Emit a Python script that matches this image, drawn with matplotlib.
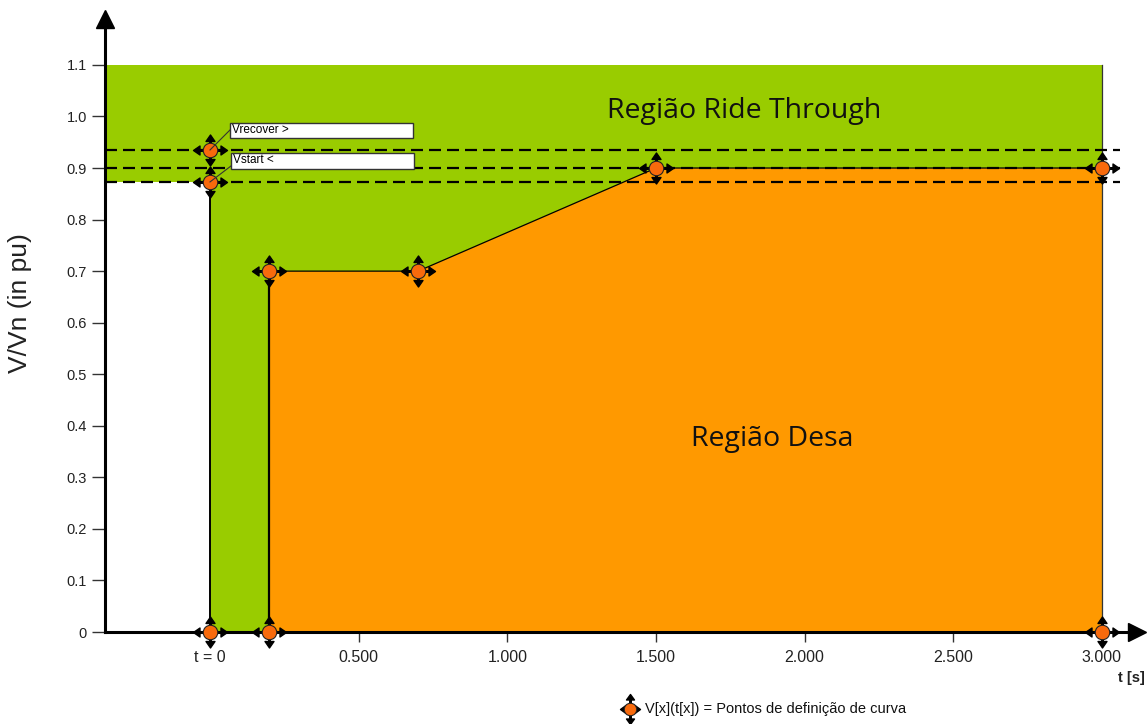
import numpy as np
import matplotlib
matplotlib.use("Agg")
import matplotlib.pyplot as plt
from matplotlib.path import Path
from matplotlib.patches import Rectangle

# ---------------- data ----------------
curve_t = [0.2, 0.2, 0.7, 1.5, 3.0, 3.0]
curve_v = [0.0, 0.7, 0.7, 0.9, 0.9, 0.0]
t_start = 0.0
v_start = 0.873
v_recover = 0.935
v_level = 0.9
v_max = 1.1
t_end = 3.0
point_t = [0.0, 0.0, 0.0, 0.2, 0.2, 0.7, 1.5, 3.0, 3.0]
point_v = [0.0, 0.873, 0.935, 0.0, 0.7, 0.7, 0.9, 0.9, 0.0]
xtick_vals = [0.0, 0.5, 1.0, 1.5, 2.0, 2.5, 3.0]
xtick_labels = ["t = 0", "0.500", "1.000", "1.500", "2.000", "2.500", "3.000"]
ytick_vals = [0.0, 0.1, 0.2, 0.3, 0.4, 0.5, 0.6, 0.7, 0.8, 0.9, 1.0, 1.1]
ytick_labels = ["0", "0.1", "0.2", "0.3", "0.4", "0.5", "0.6", "0.7", "0.8", "0.9", "1.0", "1.1"]

GREEN = "#99CC00"
ORANGE = "#FF9900"
DOT = "#F86A0C"

plt.rcParams['font.family'] = ['Liberation Sans', 'DejaVu Sans']

W, H = 1147, 724
fig = plt.figure(figsize=(W / 100, H / 100), dpi=100)
XMIN, XMAX = -0.3532, 3.15
YMIN, YMAX = 0.0, 1.21
ax = fig.add_axes([105 / W, 92 / H, (1146.5 - 105) / W, 623.8 / H])
ax.set_xlim(XMIN, XMAX)
ax.set_ylim(YMIN, YMAX)
ax.set_facecolor("white")

# ---------------- regions ----------------
ax.fill_between([XMIN, t_start], v_start, v_max, color=GREEN, lw=0, zorder=1)
ax.fill_between([t_start, t_end], 0, v_max, color=GREEN, lw=0, zorder=1)
ax.fill(curve_t, curve_v, color=ORANGE, lw=0, zorder=1.5)

# outlines
ax.plot(curve_t[1:5], curve_v[1:5], color="black", lw=0.9, zorder=2)
ax.plot(curve_t[:2], curve_v[:2], color="black", lw=1.6, zorder=2)
ax.plot([t_start, t_start], [0, v_start], color="black", lw=1.4, zorder=2)
ax.plot([t_end, t_end], [0, v_max], color="#333333", lw=0.9, zorder=2)

# dashed levels
for v in (v_recover, v_level, v_start):
    ax.plot([XMIN, 3.06], [v, v], color="black", lw=1.6, dashes=(5.4, 2.7),
            zorder=3, clip_on=False)

# ---------------- markers ----------------
def arrows_path(hx, vy, r=6.5, head_len=6.5, head_hw=4.5, stem_hw=0.8):
    verts, codes = [], []
    def add_arrow(d, tip):
        dx, dy = d
        px, py = -dy, dx
        base = tip - head_len
        poly = [
            (dx * r + px * stem_hw, dy * r + py * stem_hw),
            (dx * base + px * stem_hw, dy * base + py * stem_hw),
            (dx * base + px * head_hw, dy * base + py * head_hw),
            (dx * tip, dy * tip),
            (dx * base - px * head_hw, dy * base - py * head_hw),
            (dx * base - px * stem_hw, dy * base - py * stem_hw),
            (dx * r - px * stem_hw, dy * r - py * stem_hw),
        ]
        verts.extend(poly + [poly[0]])
        codes.extend([Path.MOVETO] + [Path.LINETO] * (len(poly) - 1) + [Path.CLOSEPOLY])
    add_arrow((1, 0), hx)
    add_arrow((-1, 0), hx)
    add_arrow((0, 1), vy)
    add_arrow((0, -1), vy)
    return Path(verts, codes)

px2pt = 72 / 100
main_arrows = arrows_path(17, 15.5)
ax.plot(point_t, point_v, ls="none", marker=main_arrows, markersize=2 * 17 * px2pt,
        color="black", zorder=5, clip_on=False)
ax.plot(point_t, point_v, ls="none", marker="o", markersize=14.5 * px2pt,
        markerfacecolor=DOT, markeredgecolor="#222222", markeredgewidth=0.8,
        zorder=6, clip_on=False)

# ---------------- label boxes ----------------
def px_t(p):
    return (p - 210) / 297.3
def px_v(p):
    return (632 - p) / 515.5

boxes = [("Vrecover >", 230, 413, 123, 138, v_recover, 130),
         ("Vstart <", 231, 414, 153, 169, v_start, 166)]
for label, x0, x1, y0, y1, vsrc, yend in boxes:
    ax.add_patch(Rectangle((px_t(x0), px_v(y1)), px_t(x1) - px_t(x0), px_v(y0) - px_v(y1),
                           facecolor="white", edgecolor="#333333", lw=1.0, zorder=7))
    ax.plot([t_start, px_t(x0)], [vsrc, px_v(yend)], color="#333333", lw=0.8, zorder=6.5)
    ax.text(px_t(x0 + 2), px_v((y0 + y1) / 2 - 0.5), label, fontsize=8.5, ha="left",
            va="center", zorder=8)

# ---------------- region texts ----------------
ax.text(px_t(744), px_v(111), "Região Ride Through", fontsize=20.5, family=["Open Sans", "DejaVu Sans"],
        ha="center", va="center", zorder=8, color="#111111")
ax.text(px_t(772), px_v(439), "Região Desa", fontsize=20.5, family=["Open Sans", "DejaVu Sans"],
        ha="center", va="center", zorder=8, color="#111111")

# ---------------- axes ----------------
for s in ("top", "right"):
    ax.spines[s].set_visible(False)
ax.spines["left"].set_linewidth(2.2)
ax.spines["bottom"].set_linewidth(2.2)
ax.spines["left"].set_bounds(0, 1.18)
ax.spines["bottom"].set_bounds(XMIN, 3.12)
ax.spines["left"].set_zorder(4)
ax.spines["bottom"].set_zorder(4)

ax.set_yticks(ytick_vals)
ax.set_yticklabels(ytick_labels)
ax.set_xticks(xtick_vals)
ax.set_xticklabels(xtick_labels)
ax.tick_params(axis="y", direction="out", length=9.5, width=1.0, color="#333333",
               labelsize=10.5, pad=3.5, labelcolor="#222222")
ax.tick_params(axis="x", direction="out", length=7, width=1.0, color="#333333",
               labelsize=11.5, pad=6, labelcolor="#222222")

# arrow heads
ax.plot([XMIN], [1.189], marker="^", markersize=13, color="black", clip_on=False, zorder=6)
ax.plot([3.118], [0], marker=">", markersize=13, color="black", clip_on=False, zorder=6)

fig.text(20 / W, 1 - 303 / H, "V/Vn (in pu)", fontsize=19, rotation=90,
         ha="center", va="center", color="#222222")
fig.text(1145 / W, 1 - 678 / H, "t [s]", fontsize=10.5, fontweight="bold",
         ha="right", va="center", color="#222222")

# legend at bottom
leg_arrows = arrows_path(10, 15, r=6, head_len=5.5, head_hw=4)
fig.lines.append(plt.Line2D([630 / W], [1 - 709 / H], transform=fig.transFigure, ls="none",
                            marker=leg_arrows, markersize=2 * 15 * px2pt, color="black"))
fig.lines.append(plt.Line2D([630 / W], [1 - 709 / H], transform=fig.transFigure, ls="none",
                            marker="o", markersize=12.5 * px2pt, markerfacecolor=DOT,
                            markeredgecolor="#222222", markeredgewidth=0.8))
fig.text(645 / W, 1 - 709 / H, "V[x](t[x]) = Pontos de definição de curva", fontsize=10.5,
         ha="left", va="center", color="#111111")

fig.savefig("out.png", dpi=100)
